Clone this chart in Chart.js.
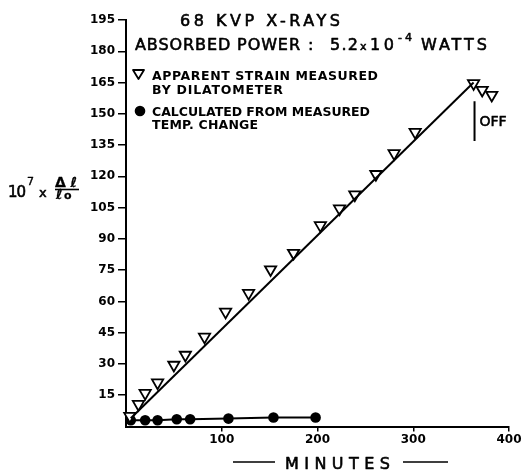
<!DOCTYPE html>
<html>
<head>
<meta charset="utf-8">
<script src="https://cdn.jsdelivr.net/npm/chart.js@4.4.1/dist/chart.umd.min.js"></script>
<style>
  html, body { margin: 0; padding: 0; background: #fff; }
  #wrap { width: 526px; height: 470px; }
</style>
</head>
<body>
<div id="wrap"><canvas id="chart" width="526" height="470"></canvas></div>
<script>
// apparent strain measured by dilatometer (triangles)
const strainMin = [4, 13, 20, 33, 50, 62, 82, 104, 128, 151, 175, 203, 223, 239, 261, 280, 302, 363, 372, 382];
const strainVal = [5, 10.7, 16, 21, 29.5, 34.3, 43, 55, 64, 75.3, 83.2, 96.5, 104.5, 111.2, 121, 131, 141.2, 164.6, 161.4, 159];

// fitted straight line through the triangles
const fitMin = [5, 363];
const fitVal = [4, 165];

// calculated from measured temp. change (dots)
const calcMin = [5, 20, 33, 53, 67, 107, 154, 198];
const calcVal = [3.0, 3.0, 3.0, 3.5, 3.5, 3.8, 4.3, 4.3];

// "OFF" marker
const offMin = [364, 364];
const offVal = [156, 137];

const yTicks = [15, 30, 45, 60, 75, 90, 105, 120, 135, 150, 165, 180, 195];
const xTicks = [100, 200, 300, 400];

const FONT = '"DejaVu Sans", "Liberation Sans", sans-serif';

function pts(xs, ys) { return xs.map((x, i) => ({ x: x, y: ys[i] })); }

// draw text stretched to a width, slightly emboldened with a thin stroke
function fitText(ctx, str, x, y, w, stroke) {
    ctx.letterSpacing = '0px';
    const m = ctx.measureText(str).width;
    const ls = str.length > 1 ? (w - m) / (str.length - 1) : 0;
    ctx.letterSpacing = ls + 'px';
    ctx.fillText(str, x, y);
    if (stroke) {
        ctx.lineWidth = stroke;
        ctx.strokeText(str, x, y);
    }
    ctx.letterSpacing = '0px';
}

const textPlugin = {
    id: 'texts',
    afterDraw(chart) {
        const ctx = chart.ctx;
        ctx.save();
        ctx.fillStyle = '#000';
        ctx.strokeStyle = '#000';
        ctx.textAlign = 'left';
        ctx.textBaseline = 'alphabetic';
        ctx.lineJoin = 'round';

        // title
        ctx.font = '16px ' + FONT;
        fitText(ctx, '68 KVP X-RAYS', 180, 26, 160, 0.6);
        fitText(ctx, 'ABSORBED POWER', 135, 50, 165, 0.6);
        fitText(ctx, ':', 308, 50, 5, 0.6);
        fitText(ctx, '5.2', 330, 50, 28, 0.6);
        ctx.font = '11px ' + FONT;
        fitText(ctx, 'x', 360, 50, 7, 0.5);
        ctx.font = '16px ' + FONT;
        fitText(ctx, '10', 370, 50, 24, 0.6);
        ctx.font = '11px ' + FONT;
        fitText(ctx, '-4', 398, 41, 14, 0.5);
        ctx.font = '16px ' + FONT;
        fitText(ctx, 'WATTS', 421, 50, 66, 0.6);

        // legend
        ctx.font = 'bold 12.5px ' + FONT;
        fitText(ctx, 'APPARENT STRAIN MEASURED', 152, 80, 226);
        fitText(ctx, 'BY DILATOMETER', 152, 94, 131);
        fitText(ctx, 'CALCULATED FROM MEASURED', 152, 116, 218);
        fitText(ctx, 'TEMP. CHANGE', 152, 128.5, 106);

        ctx.lineWidth = 1.8;
        ctx.fillStyle = '#fff';
        ctx.beginPath();
        ctx.moveTo(133, 70);
        ctx.lineTo(144, 70);
        ctx.lineTo(138.5, 79);
        ctx.closePath();
        ctx.fill();
        ctx.stroke();
        ctx.fillStyle = '#000';
        ctx.beginPath();
        ctx.arc(140, 111, 5.3, 0, Math.PI * 2);
        ctx.fill();

        // OFF label
        const xs = chart.scales.x, ys = chart.scales.y;
        ctx.font = '14px ' + FONT;
        const ox = xs.getPixelForValue(offMin[0]);
        const oy = ys.getPixelForValue((offVal[0] + offVal[1]) / 2);
        fitText(ctx, 'OFF', ox + 5, oy + 5, 27, 0.6);

        // y axis label
        ctx.font = '15px ' + FONT;
        fitText(ctx, '10', 8, 197, 18, 0.6);
        ctx.font = '11px ' + FONT;
        fitText(ctx, '7', 27, 185, 6, 0.4);
        ctx.font = '13px ' + FONT;
        fitText(ctx, 'x', 39, 197, 8, 0.5);
        ctx.font = 'bold 14px ' + FONT;
        fitText(ctx, '\u0394\u2113', 55, 187, 22, 0.3);
        fitText(ctx, '\u2113', 56, 199, 6, 0.3);
        ctx.font = 'bold 11px ' + FONT;
        fitText(ctx, 'o', 64, 199, 7, 0.3);
        ctx.lineWidth = 1.6;
        ctx.beginPath();
        ctx.moveTo(55, 189.5);
        ctx.lineTo(79, 189.5);
        ctx.stroke();

        // x axis title
        ctx.font = '16px ' + FONT;
        fitText(ctx, 'MINUTES', 285, 469, 105, 0.6);
        ctx.lineWidth = 1.5;
        ctx.beginPath();
        ctx.moveTo(233, 462); ctx.lineTo(275, 462);
        ctx.moveTo(403, 462); ctx.lineTo(448, 462);
        ctx.stroke();
        ctx.restore();
    }
};

new Chart(document.getElementById('chart'), {
    type: 'scatter',
    data: {
        datasets: [
            {
                label: 'fit',
                data: pts(fitMin, fitVal),
                showLine: true,
                borderColor: '#000',
                borderWidth: 2,
                pointRadius: 0
            },
            {
                label: 'APPARENT STRAIN MEASURED BY DILATOMETER',
                data: pts(strainMin, strainVal),
                showLine: false,
                pointStyle: 'triangle',
                pointRotation: 180,
                pointRadius: 6.5,
                pointBackgroundColor: '#fff',
                pointBorderColor: '#000',
                pointBorderWidth: 1.8
            },
            {
                label: 'CALCULATED FROM MEASURED TEMP. CHANGE',
                data: pts(calcMin, calcVal),
                showLine: true,
                borderColor: '#000',
                borderWidth: 2,
                pointStyle: 'circle',
                pointRadius: 5.3,
                pointBackgroundColor: '#000',
                pointBorderColor: '#000',
                pointBorderWidth: 0
            },
            {
                label: 'off',
                data: pts(offMin, offVal),
                showLine: true,
                borderColor: '#000',
                borderWidth: 2,
                pointRadius: 0
            }
        ]
    },
    options: {
        responsive: false,
        animation: false,
        clip: false,
        layout: { padding: { top: 20, right: 17, left: 0, bottom: 0 } },
        plugins: { legend: { display: false }, tooltip: { enabled: false } },
        scales: {
            x: {
                type: 'linear',
                min: 0,
                max: 400,
                afterFit(scale) { scale.height = 43.5; },
                afterBuildTicks(scale) { scale.ticks = xTicks.map(v => ({ value: v })); },
                border: { display: true, color: '#000', width: 2 },
                grid: { drawOnChartArea: false, drawTicks: true, tickLength: 5, color: '#000', lineWidth: 1.5 },
                ticks: {
                    color: '#000',
                    padding: 1,
                    font: { family: FONT, size: 12, weight: 'bold' },
                    callback: v => String(v)
                }
            },
            y: {
                type: 'linear',
                min: 0,
                max: 195,
                afterFit(scale) { scale.width = 126; },
                afterBuildTicks(scale) { scale.ticks = yTicks.map(v => ({ value: v })); },
                border: { display: true, color: '#000', width: 2 },
                grid: { drawOnChartArea: false, drawTicks: true, tickLength: 8, color: '#000', lineWidth: 1.5 },
                ticks: {
                    color: '#000',
                    padding: 3,
                    font: { family: FONT, size: 12, weight: 'bold' },
                    callback: v => String(v)
                }
            }
        }
    },
    plugins: [textPlugin]
});
</script>
</body>
</html>
